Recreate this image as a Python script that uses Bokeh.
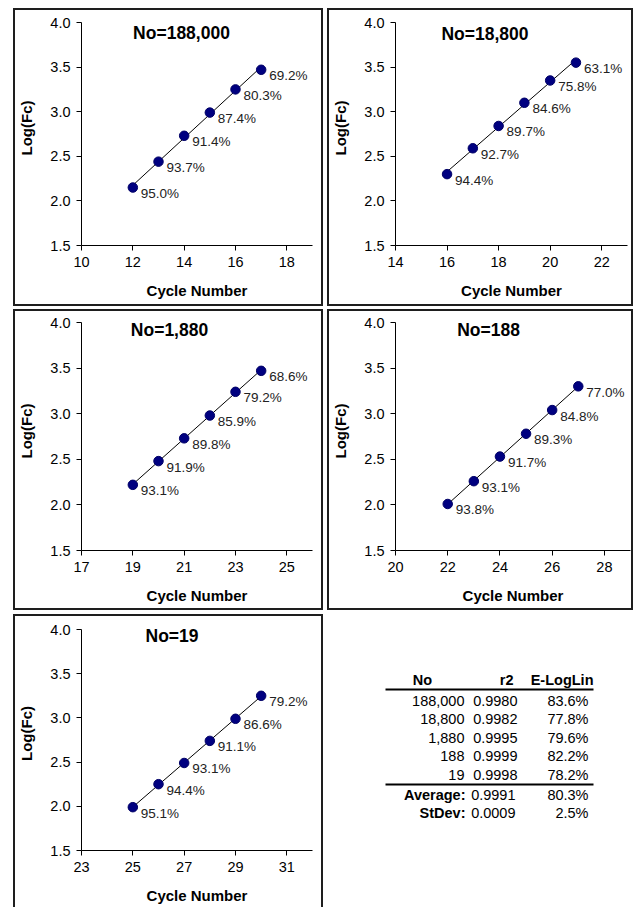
import numpy as np
from bokeh.plotting import figure
from bokeh.layouts import column, row
from bokeh.models import Range1d, FixedTicker, NumeralTickFormatter, Label, ColumnDataSource
from bokeh.core.properties import value
from bokeh.embed import file_html
from bokeh.resources import INLINE

FONT = "Liberation Sans"

# ---------------- data ----------------
titles = ["No=188,000", "No=18,800", "No=1,880", "No=188", "No=19"]

cycles_188000 = [12, 13, 14, 15, 16, 17]
logfc_188000 = [2.15, 2.44, 2.73, 2.99, 3.25, 3.47]
eff_188000 = [95.0, 93.7, 91.4, 87.4, 80.3, 69.2]

cycles_18800 = [16, 17, 18, 19, 20, 21]
logfc_18800 = [2.30, 2.59, 2.84, 3.10, 3.35, 3.55]
eff_18800 = [94.4, 92.7, 89.7, 84.6, 75.8, 63.1]

cycles_1880 = [19, 20, 21, 22, 23, 24]
logfc_1880 = [2.22, 2.48, 2.73, 2.98, 3.24, 3.47]
eff_1880 = [93.1, 91.9, 89.8, 85.9, 79.2, 68.6]

cycles_188 = [22, 23, 24, 25, 26, 27]
logfc_188 = [2.01, 2.26, 2.53, 2.78, 3.04, 3.30]
eff_188 = [93.8, 93.1, 91.7, 89.3, 84.8, 77.0]

cycles_19 = [25, 26, 27, 28, 29, 30]
logfc_19 = [1.99, 2.25, 2.49, 2.74, 2.99, 3.25]
eff_19 = [95.1, 94.4, 93.1, 91.1, 86.6, 79.2]

x_starts = [10, 14, 17, 20, 23]
y_ticks = [1.5, 2.0, 2.5, 3.0, 3.5, 4.0]

table_header = ["No", "r2", "E-LogLin"]
table_no = ["188,000", "18,800", "1,880", "188", "19"]
table_r2 = [0.9980, 0.9982, 0.9995, 0.9999, 0.9998]
table_eff = [83.6, 77.8, 79.6, 82.2, 78.2]
summary_labels = ["Average:", "StDev:"]
summary_r2 = [0.9991, 0.0009]
summary_eff = [80.3, 2.5]

series = [
    (cycles_188000, logfc_188000, eff_188000),
    (cycles_18800, logfc_18800, eff_18800),
    (cycles_1880, logfc_1880, eff_1880),
    (cycles_188, logfc_188, eff_188),
    (cycles_19, logfc_19, eff_19),
]

# ---------------- layout ----------------
# w,h: figure (outer) size incl. 2px borders; canvas starts inside the border.
# fl/fr: frame left/right and y4/y15: rows of 4.0 and 1.5, in canvas pixels.
geom = [
    dict(w=310, h=298, fl=64, fr=297, y4=12, y15=235, tx=164, ty=20, margin=(8, 0, 0, 13)),
    dict(w=306, h=298, fl=64, fr=298, y4=12, y15=235, tx=153.5, ty=21, margin=(8, 0, 0, 4)),
    dict(w=310, h=301, fl=62, fr=297, y4=11, y15=239, tx=152, ty=16.5, margin=(3, 0, 0, 13)),
    dict(w=306, h=301, fl=64, fr=301, y4=11, y15=239, tx=157, ty=16.5, margin=(3, 0, 0, 4)),
    dict(w=310, h=293, fl=61, fr=297, y4=13, y15=234, tx=154.5, ty=17.3, margin=(4, 0, 0, 13)),
]
BORDER = "2px solid #1e1e1e"


def make_panel(i):
    g = geom[i]
    cyc, lfc, eff = series[i]
    xs = x_starts[i]
    px_per_unit = (g["y15"] - g["y4"]) / 2.5
    y_top = 4.0 + g["y4"] / px_per_unit
    p = figure(width=g["w"], height=g["h"],
               x_range=Range1d(xs, xs + 9), y_range=Range1d(1.5, y_top),
               output_backend="svg", toolbar_location=None,
               min_border_left=g["fl"], min_border_right=g["w"] - g["fr"],
               min_border_top=0, min_border_bottom=g["h"] - g["y15"])
    p.margin = g["margin"]
    if i == 4:
        p.styles = {"border-left": BORDER, "border-top": BORDER, "border-right": BORDER}
    else:
        p.styles = {"border": BORDER}
    p.outline_line_color = None
    p.xgrid.visible = False
    p.ygrid.visible = False
    p.background_fill_color = "white"
    p.border_fill_color = None

    p.xaxis.ticker = FixedTicker(ticks=list(range(xs, xs + 9, 2)))
    p.yaxis.ticker = FixedTicker(ticks=y_ticks)
    p.yaxis.bounds = (1.5, 4.0)
    p.yaxis.formatter = NumeralTickFormatter(format="0.0")
    p.xaxis.axis_label = "Cycle Number"
    p.yaxis.axis_label = "Log(Fc)"
    for ax in (p.xaxis, p.yaxis):
        ax.axis_line_color = "black"
        ax.axis_line_width = 1
        ax.major_tick_line_color = "black"
        ax.major_tick_in = 0
        ax.major_tick_out = 5
        ax.minor_tick_line_color = None
        ax.major_label_text_font = FONT
        ax.major_label_text_font_size = "14.5px"
        ax.major_label_text_color = "black"
        ax.axis_label_text_font = FONT
        ax.axis_label_text_font_size = "15px"
        ax.axis_label_text_font_style = "bold"
        ax.axis_label_text_color = "black"
    p.xaxis.major_label_standoff = 6
    p.xaxis.axis_label_standoff = 12
    p.yaxis.major_label_standoff = 6
    p.yaxis.axis_label_standoff = 12

    # regression line
    m, b = np.polyfit(cyc, lfc, 1)
    xx = np.array([min(cyc), max(cyc)], dtype=float)
    p.line(xx, m * xx + b, line_color="black", line_width=1)

    src = ColumnDataSource(dict(x=cyc, y=lfc, lab=[f"{e:.1f}%" for e in eff]))
    p.scatter("x", "y", source=src, size=9.5, fill_color="#000080", line_color="#000066")
    p.text("x", "y", text="lab", source=src, x_offset=8, y_offset=6,
           text_font=value(FONT), text_font_size="13.5px", text_color="#222222",
           text_align="left", text_baseline="middle")

    p.add_layout(Label(x=g["tx"], y=g["ty"], x_units="canvas", y_units="canvas",
                       text=titles[i], text_font=FONT, text_font_size="17.5px",
                       text_font_style="bold", text_color="black",
                       text_align="center", text_baseline="middle"))
    return p


panels = [make_panel(i) for i in range(5)]

# ---------------- table ----------------
g5 = geom[4]
tw, th = 306, g5["h"]
pt = figure(width=tw, height=th, x_range=Range1d(0, tw), y_range=Range1d(g5["y15"], 0),
            output_backend="svg", toolbar_location=None,
            x_axis_location=None, y_axis_location=None,
            min_border_left=0, min_border_right=0,
            min_border_top=0, min_border_bottom=th - g5["y15"])
pt.margin = (4, 0, 0, 4)
pt.styles = {"border-left": "2px solid transparent", "border-top": "2px solid transparent",
             "border-right": "2px solid transparent"}
pt.outline_line_color = None
pt.border_fill_color = None
pt.xgrid.visible = False
pt.ygrid.visible = False

col_no_r, col_r2_r, col_e_r = 135, 188, 259
header_y, row0_y, row_dy = 63, 84, 18.5
line_left, line_right = 56, 264


def ttext(x, y, txt, align, bold=False):
    pt.text(x=x, y=y, text=txt, text_font=value(FONT), text_font_size="14.5px",
            text_font_style="bold" if bold else "normal", text_color="black",
            text_align=align, text_baseline="middle")


ttext([93], [header_y], [table_header[0]], "center", True)
ttext([184], [header_y], [table_header[1]], "right", True)
ttext([264], [header_y], [table_header[2]], "right", True)

rows_y = [row0_y + k * row_dy for k in range(len(table_no))]
ttext([col_no_r] * len(rows_y), rows_y, table_no, "right")
ttext([col_r2_r] * len(rows_y), rows_y, [f"{v:.4f}" for v in table_r2], "right")
ttext([col_e_r] * len(rows_y), rows_y, [f"{v:.1f}%" for v in table_eff], "right")

line1_y = header_y + 10
line2_y = rows_y[-1] + 10
pt.segment(x0=[line_left, line_left], y0=[line1_y, line2_y],
           x1=[line_right, line_right], y1=[line1_y, line2_y],
           line_color="black", line_width=2)

sum_y = [line2_y + 10 + k * row_dy for k in range(len(summary_labels))]
ttext([col_no_r + 1] * 2, sum_y, summary_labels, "right", True)
ttext([col_r2_r - 2] * 2, sum_y, [f"{v:.4f}" for v in summary_r2], "right")
ttext([col_e_r] * 2, sum_y, [f"{v:.1f}%" for v in summary_eff], "right")

layout = column(row(panels[0], panels[1]),
                row(panels[2], panels[3]),
                row(panels[4], pt))

open("out.html", "w").write(file_html(layout, INLINE))
